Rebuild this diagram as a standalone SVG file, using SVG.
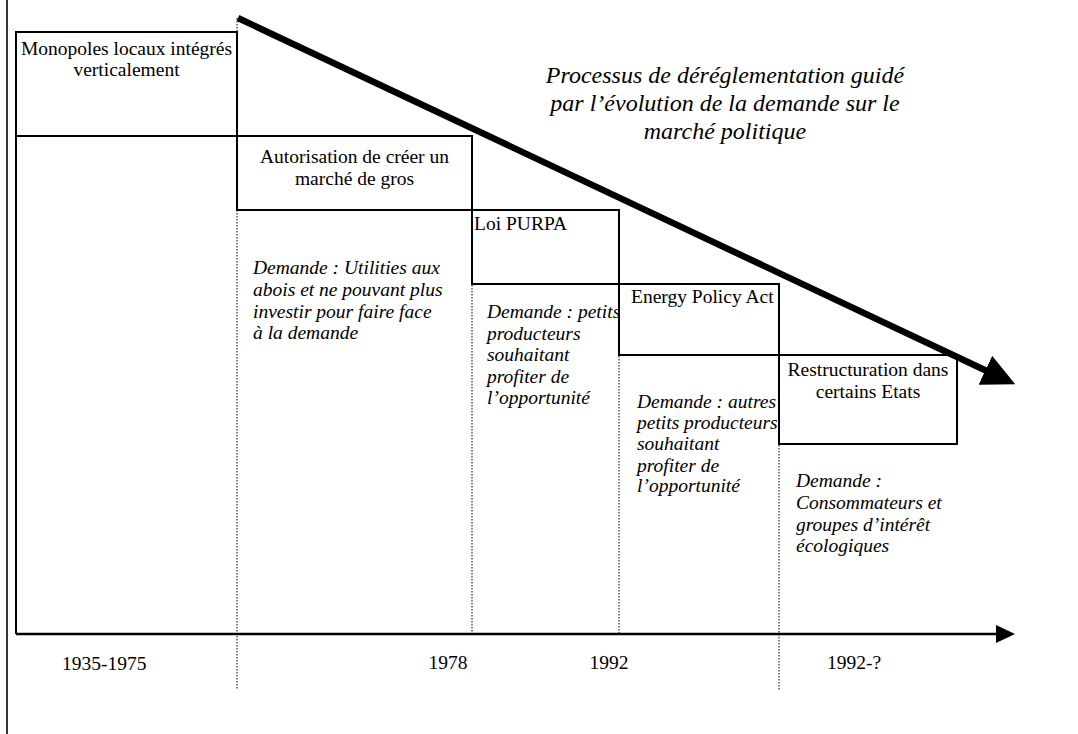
<svg xmlns="http://www.w3.org/2000/svg" width="1078" height="734" viewBox="0 0 1078 734">
<style>
.box{fill:none;stroke:#000;stroke-width:2}
.frame{fill:none;stroke:#000;stroke-width:1.6}
.dot{fill:none;stroke:#000;stroke-width:1;stroke-dasharray:1.5 1.5}
.reg{font-family:"Liberation Serif","Times New Roman",serif;font-size:19.5px;fill:#000}
.it{font-family:"Liberation Serif","Times New Roman",serif;font-size:19.5px;font-style:italic;fill:#000}
.title{font-family:"Liberation Serif","Times New Roman",serif;font-size:24px;font-style:italic;fill:#000}
.mid{text-anchor:middle}
</style>
<defs>
<marker id="bigHead" markerUnits="userSpaceOnUse" viewBox="0 0 33 32" markerWidth="33" markerHeight="32" refX="4" refY="16" orient="auto">
<path d="M0,0 L33,16 L0,32 z" fill="#000"/>
</marker>
<marker id="axisHead" markerUnits="userSpaceOnUse" viewBox="0 0 19 18" markerWidth="19" markerHeight="18" refX="2" refY="9" orient="auto">
<path d="M0,0 L19,9 L0,18 z" fill="#000"/>
</marker>
</defs>
<rect width="1078" height="734" fill="#fff"/>

<g id="connectors">
<line class="dot" x1="237" y1="18" x2="237" y2="690"/>
<line class="dot" x1="472" y1="210" x2="472" y2="634"/>
<line class="dot" x1="619" y1="284" x2="619" y2="634"/>
<line class="dot" x1="779" y1="355" x2="779" y2="690"/>
<line x1="16" y1="634" x2="998" y2="634" stroke="#000" stroke-width="2.5" marker-end="url(#axisHead)"/>
<line x1="238" y1="18" x2="989" y2="372" stroke="#000" stroke-width="6.5" marker-end="url(#bigHead)"/>
</g>

<g id="frame">
<line class="frame" x1="7" y1="0" x2="7" y2="734"/>
<line class="box" x1="16" y1="136" x2="16" y2="634"/>
</g>

<g id="node-monopoles">
<rect class="box" x="16" y="32" width="221" height="104"/>
<text class="reg mid" x="126.5" y="55">Monopoles locaux intégrés</text>
<text class="reg mid" x="126.5" y="76">verticalement</text>
</g>

<g id="node-autorisation">
<rect class="box" x="237" y="136" width="235" height="74"/>
<text class="reg mid" x="354.5" y="163">Autorisation de créer un</text>
<text class="reg mid" x="354.5" y="185">marché de gros</text>
</g>

<g id="node-purpa">
<rect class="box" x="472" y="210" width="147" height="74"/>
<text class="reg" x="474" y="230">Loi PURPA</text>
</g>

<g id="node-epact">
<rect class="box" x="619" y="284" width="160" height="71"/>
<text class="reg" x="631" y="303">Energy Policy Act</text>
</g>

<g id="node-restructuration">
<rect class="box" x="779" y="355" width="178" height="89"/>
<text class="reg mid" x="868" y="376">Restructuration dans</text>
<text class="reg mid" x="868" y="398">certains Etats</text>
</g>

<g id="demand-1">
<text class="it" x="253" y="274">Demande : Utilities aux</text>
<text class="it" x="253" y="296">abois et ne pouvant plus</text>
<text class="it" x="253" y="318">investir pour faire face</text>
<text class="it" x="253" y="339">à la demande</text>
</g>

<g id="demand-2">
<text class="it" x="487" y="318">Demande : petits</text>
<text class="it" x="487" y="340">producteurs</text>
<text class="it" x="487" y="361">souhaitant</text>
<text class="it" x="487" y="383">profiter de</text>
<text class="it" x="487" y="404">l’opportunité</text>
</g>

<g id="demand-3">
<text class="it" x="637" y="408">Demande : autres</text>
<text class="it" x="637" y="429">petits producteurs</text>
<text class="it" x="637" y="450">souhaitant</text>
<text class="it" x="637" y="472">profiter de</text>
<text class="it" x="637" y="492">l’opportunité</text>
</g>

<g id="demand-4">
<text class="it" x="796" y="487">Demande :</text>
<text class="it" x="796" y="509">Consommateurs et</text>
<text class="it" x="796" y="531">groupes d’intérêt</text>
<text class="it" x="796" y="552">écologiques</text>
</g>

<g id="title">
<text class="title mid" x="725" y="83">Processus de déréglementation guidé</text>
<text class="title mid" x="725" y="111">par l’évolution de la demande sur le</text>
<text class="title mid" x="725" y="139">marché politique</text>
</g>

<g id="years">
<text class="reg" x="62" y="670">1935-1975</text>
<text class="reg mid" x="448" y="669">1978</text>
<text class="reg mid" x="609" y="669">1992</text>
<text class="reg" x="827" y="669">1992-?</text>
</g>
</svg>
